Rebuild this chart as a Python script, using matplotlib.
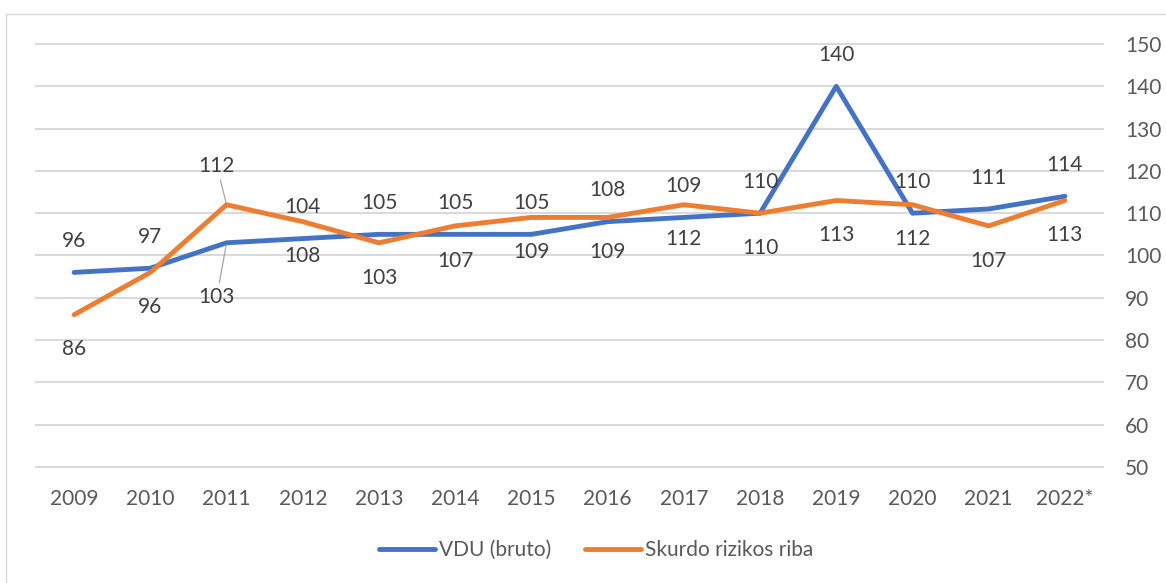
import matplotlib
matplotlib.use('Agg')
import matplotlib.pyplot as plt
from matplotlib.patches import Rectangle

years = ['2009', '2010', '2011', '2012', '2013', '2014', '2015',
         '2016', '2017', '2018', '2019', '2020', '2021', '2022*']
vdu = [96, 97, 103, 104, 105, 105, 105, 108, 109, 110, 140, 110, 111, 114]
skurdo = [86, 96, 112, 108, 103, 107, 109, 109, 112, 110, 113, 112, 107, 113]
yticks = [50, 60, 70, 80, 90, 100, 110, 120, 130, 140, 150]

BLUE = '#4472C4'
ORANGE = '#ED7D31'
LABEL = '#404040'
TICK = '#595959'
GRID = '#D9D9D9'

plt.rcParams['font.family'] = ['Lato', 'DejaVu Sans']
plt.rcParams['font.size'] = 15

fig = plt.figure(figsize=(11.66, 5.83), dpi=100)
ax = fig.add_axes([36 / 1166, 116 / 583, 1067 / 1166, 423 / 583])

# chart area border
fig.patches.append(Rectangle((6 / 1166, -0.1), 1.2, 0.1 + 569 / 583,
                             transform=fig.transFigure, fill=False,
                             edgecolor=GRID, lw=1.0))

x = list(range(len(years)))
l1, = ax.plot(x, vdu, color=BLUE, lw=3.5, solid_capstyle='round',
              solid_joinstyle='round', label='VDU (bruto)', zorder=3)
l2, = ax.plot(x, skurdo, color=ORANGE, lw=3.5, solid_capstyle='round',
              solid_joinstyle='round', label='Skurdo rizikos riba', zorder=4)

ax.set_xlim(-0.5, len(years) - 0.5)
ax.set_ylim(50, 150)
ax.set_yticks(yticks)
ax.set_xticks(x)
ax.set_xticklabels(years)
ax.yaxis.tick_right()
ax.tick_params(axis='both', length=0, colors=TICK, labelsize=15)
ax.tick_params(axis='y', pad=16)
ax.tick_params(axis='x', pad=15.5)
for s in ax.spines.values():
    s.set_visible(False)
ax.grid(axis='y', color=GRID, lw=1.4)
for gl in ax.get_ygridlines():
    gl.set_clip_on(False)
ax.set_axisbelow(True)

# data labels
leader = dict(arrowstyle='-', color='#A6A6A6', lw=0.9, shrinkA=1, shrinkB=2)
for i in x:
    if years[i] == '2011':
        ax.annotate(str(vdu[i]), (i, vdu[i]), xytext=(-7, -39),
                    textcoords='offset points', ha='center', va='center',
                    color=LABEL, arrowprops=leader)
        ax.annotate(str(skurdo[i]), (i, skurdo[i]), xytext=(-7, 28),
                    textcoords='offset points', ha='center', va='center',
                    color=LABEL, arrowprops=leader)
    else:
        ax.annotate(str(vdu[i]), (i, vdu[i]), xytext=(0, 22.5),
                    textcoords='offset points', ha='center', va='center',
                    color=LABEL)
        ax.annotate(str(skurdo[i]), (i, skurdo[i]), xytext=(0, -25),
                    textcoords='offset points', ha='center', va='center',
                    color=LABEL)

leg = fig.legend(handles=[l1, l2], loc='center', ncol=2,
                 bbox_to_anchor=(596 / 1166, 33 / 583), frameon=False,
                 handlelength=2.7, handletextpad=0.2, columnspacing=1.6,
                 fontsize=15)
for t in leg.get_texts():
    t.set_color(TICK)
for h in leg.get_lines():
    h.set_linewidth(3.5)

fig.savefig('out.png', dpi=100)
